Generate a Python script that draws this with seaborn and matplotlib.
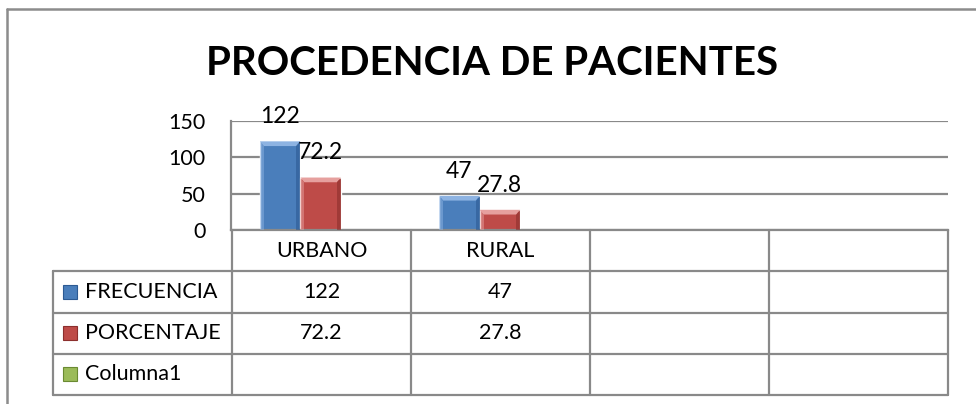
import numpy as np
import pandas as pd
import matplotlib
matplotlib.use("Agg")
import matplotlib.pyplot as plt
import seaborn as sns
from matplotlib.lines import Line2D
from matplotlib.patches import Polygon

# ==================================
# 1. Data
# ==================================

categories = ["URBANO", "RURAL"]
table_columns = ["URBANO", "RURAL", "", ""]
series_names = ["FRECUENCIA", "PORCENTAJE", "Columna1"]
frecuencia = [122, 47]
porcentaje = [72.2, 27.8]
columna1 = []
y_ticks = [0, 50, 100, 150]

series_colors = ["#4A7EBB", "#BE4B48", "#9BBB59"]
top_colors = ["#8DB3E2", "#E6A09E", "#C3D69B"]
side_colors = ["#2C5A93", "#8C2F2D", "#6A8A32"]
line_color = "#898989"

df = pd.DataFrame({
    "procedencia": categories * 2,
    "serie": ["FRECUENCIA"] * 2 + ["PORCENTAJE"] * 2,
    "valor": frecuencia + porcentaje,
})

# ==================================
# 2. Figure
# ==================================

sns.set_style("white")
plt.rcParams["font.family"] = ["Lato", "DejaVu Sans"]
plt.rcParams["text.color"] = "black"
plt.rcParams["ytick.color"] = "black"
plt.rcParams["xtick.color"] = "black"

fig = plt.figure(figsize=(9.76, 4.04), dpi=100)

ax = fig.add_axes([231 / 976, 1 - 230 / 404, 717 / 976, 109 / 404])
tab = fig.add_axes([53 / 976, 1 - 395 / 404, 895 / 976, 165 / 404])

# ==================================
# 3. Bars
# ==================================

sns.barplot(
    data=df,
    x="procedencia",
    y="valor",
    hue="serie",
    order=categories,
    hue_order=series_names,
    palette=series_colors,
    width=0.676,
    saturation=1,
    legend=False,
    ax=ax,
)

ax.set_xlim(-0.5, len(table_columns) - 0.5)
ax.set_ylim(0, 150)
ax.set_yticks(y_ticks)
ax.set_yticklabels([str(t) for t in y_ticks], fontsize=15.5)
ax.set_xticks([])
ax.set_xlabel("")
ax.set_ylabel("")
ax.tick_params(axis="y", length=0, pad=18.5)
ax.yaxis.grid(True, color=line_color, lw=1.6)
ax.set_axisbelow(True)
for side in ["top", "right"]:
    ax.spines[side].set_visible(False)
for side in ["left", "bottom"]:
    ax.spines[side].set_color(line_color)
    ax.spines[side].set_linewidth(1.6)

# bevel look + data labels
values = [frecuencia, porcentaje]
for i, (container, vals) in enumerate(zip(ax.containers, values)):
    for patch, v in zip(container.patches, vals):
        x = patch.get_x()
        w = patch.get_width()
        h = patch.get_height()
        dx = 0.022
        dy = 6.5
        top = Polygon([(x, h), (x + w, h), (x + w - dx, h - dy), (x + dx, h - dy)],
                      closed=True, color=top_colors[i], lw=0, zorder=3)
        right = Polygon([(x + w, h), (x + w, 0), (x + w - dx, 0), (x + w - dx, h - dy)],
                        closed=True, color=side_colors[i], lw=0, alpha=0.6, zorder=3)
        left = Polygon([(x, h), (x, 0), (x + dx, 0), (x + dx, h - dy)],
                       closed=True, color=top_colors[i], lw=0, alpha=0.5, zorder=3)
        ax.add_patch(top)
        ax.add_patch(right)
        ax.add_patch(left)
        ax.annotate(str(v), (x + w / 2, h), xytext=(0, 13),
                    textcoords="offset points", ha="center", va="baseline",
                    fontsize=16.5, annotation_clip=False)

# ==================================
# 4. Data table
# ==================================

n_cols = len(table_columns)
tab.set_xlim(-1.5, n_cols - 0.5)
tab.set_ylim(0, 4)
tab.axis("off")

# horizontal lines
for yy in [0, 1, 2, 3]:
    tab.plot([-1.5, n_cols - 0.5], [yy, yy], color=line_color, lw=1.6, clip_on=False)
# vertical lines
tab.plot([-1.5, -1.5], [0, 3], color=line_color, lw=1.6, clip_on=False)
for xx in np.arange(-0.5, n_cols, 1.0):
    tab.plot([xx, xx], [0, 4], color=line_color, lw=1.6, clip_on=False)

# header
for j, name in enumerate(table_columns):
    tab.text(j, 3.5, name, ha="center", va="center", fontsize=15.5)

# rows
rows = [frecuencia, porcentaje, columna1]
for i, (name, vals) in enumerate(zip(series_names, rows)):
    yy = 2.5 - i
    tab.plot([-1.405], [yy], marker="s", markersize=10, color=series_colors[i],
             markeredgecolor=side_colors[i], markeredgewidth=0.8, clip_on=False)
    tab.text(-1.32, yy, name, ha="left", va="center", fontsize=15.5)
    for j, v in enumerate(vals):
        tab.text(j, yy, str(v), ha="center", va="center", fontsize=15.5)

# ==================================
# 5. Title and frame
# ==================================

fig.text(492 / 976, 1 - 75 / 404, "PROCEDENCIA DE PACIENTES",
         ha="center", va="baseline", fontsize=29, fontweight="bold")

fig.add_artist(Line2D([7 / 976, 7 / 976], [0, 1 - 9 / 404], color="#8C8C8C", lw=1.8))
fig.add_artist(Line2D([7 / 976, 1], [1 - 9 / 404, 1 - 9 / 404], color="#8C8C8C", lw=1.8))

plt.savefig("out.png", dpi=100)
